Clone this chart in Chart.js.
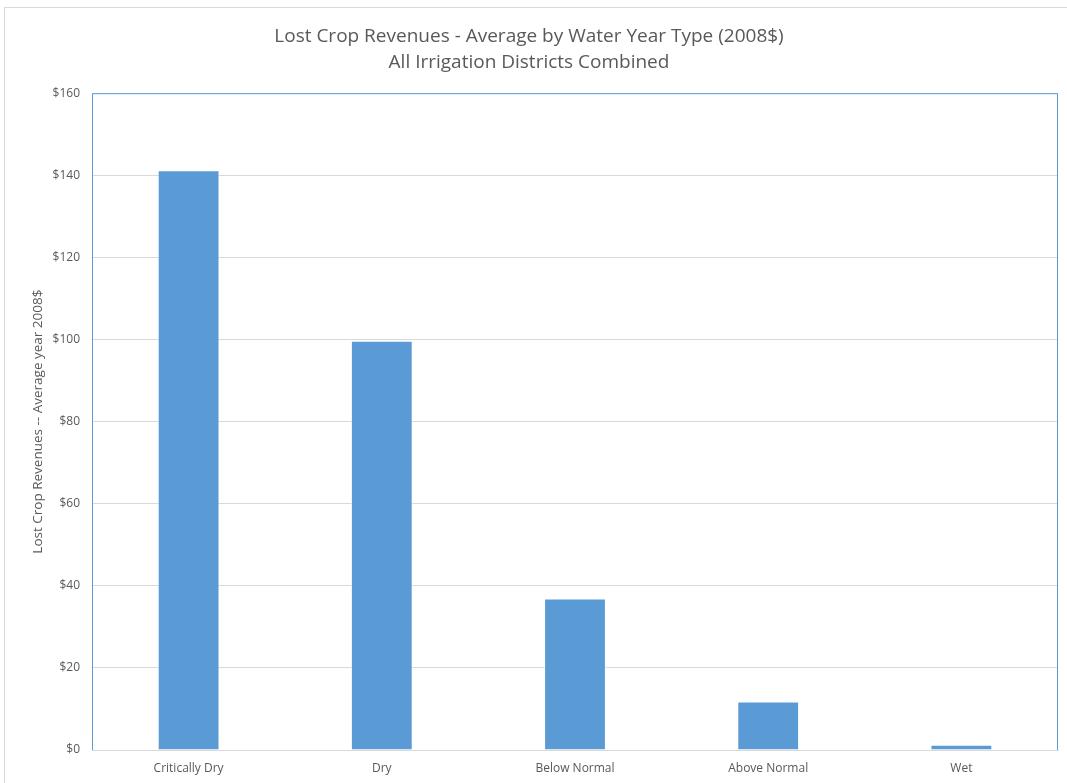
<!DOCTYPE html>
<html>
<head>
<meta charset="utf-8">
<script src="https://cdn.jsdelivr.net/npm/chart.js@4"></script>
<style>
  html, body { margin: 0; padding: 0; background: #fff; }
  #wrap { position: relative; width: 1067px; height: 783px; }
  #frame { position: absolute; left: 4px; top: 7px; right: -5px; bottom: -5px; border-left: 1px solid #d9d9d9; border-top: 1px solid #d9d9d9; }
  canvas { position: absolute; left: 0; top: 0; }
</style>
</head>
<body>
<div id="wrap">
  <div id="frame"></div>
  <canvas id="crop_chart" width="1067" height="783"></canvas>
</div>
<script>
const yearTypes = ['Critically Dry', 'Dry', 'Below Normal', 'Above Normal', 'Wet'];
const lostRevenues = [141.2, 99.7, 36.9, 11.8, 1.3];
const chartTitle = ['Lost Crop Revenues - Average by Water Year Type (2008$)', 'All Irrigation Districts Combined'];
const yTitle = 'Lost Crop Revenues -- Average year 2008$';

const FONT = "'Liberation Sans Narrow', 'Open Sans', sans-serif";

// top/left/right blue frame round the plot area
const plotFrame = {
    id: 'plotFrame',
    afterDraw(chart){
        const {ctx, chartArea: a} = chart;
        ctx.save();
        ctx.strokeStyle = '#5B9BD5';
        ctx.lineWidth = 1;
        ctx.beginPath();
        ctx.moveTo(a.left + 0.5, a.bottom);
        ctx.lineTo(a.left + 0.5, a.top + 0.5);
        ctx.lineTo(a.right - 0.5, a.top + 0.5);
        ctx.lineTo(a.right - 0.5, a.bottom);
        ctx.stroke();
        ctx.restore();
    }
};

new Chart(document.querySelector('#crop_chart'), {
    type: 'bar',
    data: {
        labels: yearTypes,
        datasets: [{
            data: lostRevenues,
            backgroundColor: '#5B9BD5',
            borderColor: 'rgba(255,255,255,0.55)',
            borderWidth: 1,
            barPercentage: 0.32,
            categoryPercentage: 1
        }]
    },
    options: {
        responsive: false,
        animation: false,
        layout: { padding: { left: 0, right: 9, top: 0, bottom: 8 } },
        scales: {
            x: {
                grid: { display: false, drawTicks: false },
                border: { color: '#d9d9d9' },
                ticks: { color: '#595959', font: { family: FONT, size: 12 }, padding: 11, maxRotation: 0 },
                afterFit(s){ s.height = 25; }
            },
            y: {
                min: 0, max: 160,
                ticks: {
                    stepSize: 20,
                    color: '#595959',
                    font: { family: FONT, size: 12 },
                    padding: 12,
                    callback: v => '$' + v
                },
                grid: { color: '#d9d9d9', drawTicks: false },
                border: { display: false },
                title: {
                    display: true,
                    text: yTitle,
                    color: '#595959',
                    font: { family: FONT, size: 13.5 },
                    padding: { top: 30, bottom: 0 }
                },
                afterFit(s){ s.width = 92; }
            }
        },
        plugins: {
            legend: { display: false },
            tooltip: { enabled: false },
            title: {
                display: true,
                text: chartTitle,
                color: '#595959',
                font: { family: FONT, size: 19, weight: 'normal', lineHeight: 1.4 },
                padding: { top: 23, bottom: 17 }
            }
        }
    },
    plugins: [plotFrame]
});
</script>
</body>
</html>
